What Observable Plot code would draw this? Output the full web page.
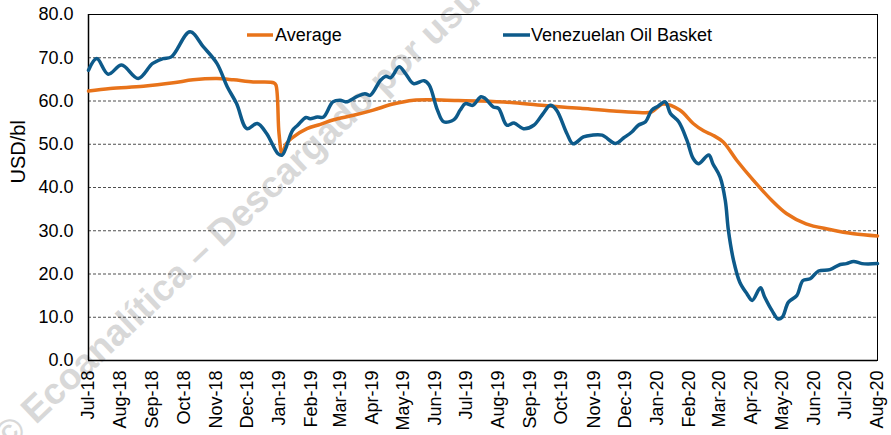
<!DOCTYPE html>
<html><head><meta charset="utf-8">
<script src="https://cdn.jsdelivr.net/npm/d3@7"></script>
<script src="https://cdn.jsdelivr.net/npm/@observablehq/plot@0.6"></script>
<style>
body{margin:0;background:#fff;font-family:"Liberation Sans",Arial,sans-serif;}
#wrap{position:relative;width:891px;height:435px;overflow:hidden;background:#fff;}
#wm,#lg,#chart{position:absolute;left:0;top:0;}
#chart svg{background:transparent !important;}
</style></head><body>
<div id="wrap">
<svg id="wm" width="891" height="435"><text x="0" y="442" transform="rotate(-43.5 0 442)" font-family="Liberation Sans, Arial, sans-serif" font-weight="bold" font-size="37" fill="#d8d8d8" dominant-baseline="central">© Ecoanalítica – Descargado por usuario</text></svg>
<div id="chart"></div>
<svg id="lg" width="891" height="435"></svg>
</div>
<script>
const seriesNames = ["Average", "Venezuelan Oil Basket"];
const seriesColors = ["#e8731a", "#0d5a8a"];

const basketDates = ["2018-07-01","2018-07-09","2018-07-20","2018-08-02","2018-08-18","2018-09-01","2018-09-11","2018-09-19","2018-10-07","2018-10-20","2018-11-02","2018-11-12","2018-11-21","2018-12-01","2018-12-11","2018-12-20","2018-12-31","2019-01-04","2019-01-14","2019-01-19","2019-01-27","2019-01-31","2019-02-07","2019-02-13","2019-02-22","2019-03-01","2019-03-07","2019-03-17","2019-03-25","2019-03-30","2019-04-09","2019-04-14","2019-04-19","2019-04-27","2019-05-03","2019-05-11","2019-05-21","2019-05-26","2019-06-03","2019-06-09","2019-06-19","2019-06-25","2019-06-30","2019-07-07","2019-07-15","2019-07-19","2019-07-27","2019-08-01","2019-08-09","2019-08-16","2019-08-25","2019-09-04","2019-09-13","2019-09-20","2019-09-26","2019-10-06","2019-10-12","2019-10-22","2019-10-30","2019-11-09","2019-11-22","2019-11-30","2019-12-08","2019-12-14","2019-12-21","2019-12-27","2020-01-02","2020-01-09","2020-01-14","2020-01-22","2020-01-30","2020-02-05","2020-02-10","2020-02-20","2020-02-24","2020-03-02","2020-03-07","2020-03-10","2020-03-15","2020-03-21","2020-03-28","2020-04-02","2020-04-10","2020-04-14","2020-04-21","2020-04-27","2020-05-01","2020-05-07","2020-05-15","2020-05-21","2020-05-28","2020-06-05","2020-06-16","2020-06-26","2020-07-02","2020-07-09","2020-07-17","2020-08-01"];
const basketValues = [67.1,69.8,66.2,68.3,65.2,68.7,69.8,70.2,76.0,72.5,68.7,63.3,59.4,53.6,54.8,52.5,47.8,47.5,53.2,54.4,56.2,55.9,56.3,56.3,59.8,60.2,59.8,61.0,61.7,61.3,64.8,65.7,65.4,67.9,66.4,64.0,64.7,63.7,57.9,55.2,55.7,57.9,59.4,59.0,61.0,60.6,58.6,58.3,54.4,54.9,53.6,54.4,57.1,59.0,57.9,52.5,50.1,51.7,52.1,52.1,50.2,51.5,52.9,54.4,55.2,57.9,58.8,59.8,57.1,55.2,50.9,46.7,45.5,47.5,45.5,42.4,37.0,30.1,23.1,18.1,15.4,13.9,16.8,14.7,11.6,9.6,10.0,13.5,15.0,18.5,18.9,20.7,21.0,22.2,22.4,22.9,22.4,22.4];

const averageDates = ["2018-07-01","2018-07-22","2018-08-23","2018-09-21","2018-10-10","2018-11-02","2018-11-18","2018-12-07","2018-12-27","2018-12-29","2019-01-01","2019-01-04","2019-01-08","2019-01-15","2019-01-28","2019-02-10","2019-02-22","2019-03-14","2019-04-02","2019-04-21","2019-05-11","2019-05-30","2019-06-12","2019-07-15","2019-08-16","2019-09-17","2019-10-19","2019-11-20","2019-12-19","2019-12-27","2020-01-07","2020-01-23","2020-02-05","2020-02-15","2020-02-24","2020-03-05","2020-03-18","2020-04-03","2020-04-21","2020-05-05","2020-05-24","2020-06-16","2020-07-09","2020-08-01"];
const averageValues = [62.3,62.9,63.4,64.2,64.9,65.2,64.9,64.4,64.2,63.7,52.5,47.8,50.1,51.7,53.6,54.6,55.6,56.7,57.9,59.3,60.2,60.3,60.2,60.0,59.6,58.9,58.3,57.7,57.3,57.5,59.3,57.9,54.8,53.1,52.1,50.5,46.3,41.7,37.0,34.0,31.6,30.3,29.3,28.8];

const monthTicks = ["2018-07-01","2018-08-01","2018-09-01","2018-10-01","2018-11-01","2018-12-01","2019-01-01","2019-02-01","2019-03-01","2019-04-01","2019-05-01","2019-06-01","2019-07-01","2019-08-01","2019-09-01","2019-10-01","2019-11-01","2019-12-01","2020-01-01","2020-02-01","2020-03-01","2020-04-01","2020-05-01","2020-06-01","2020-07-01","2020-08-01"];
const yTicks = [0,10,20,30,40,50,60,70,80];
const yGrid = [10,20,30,40,50,60,70];
const yTitle = "USD/bl";

const basket = basketDates.map((d,i)=>({date:new Date(d), value:basketValues[i]}));
const average = averageDates.map((d,i)=>({date:new Date(d), value:averageValues[i]}));
const tickDates = monthTicks.map(d=>new Date(d));

const chart = Plot.plot({
  width: 891, height: 435,
  marginLeft: 88, marginRight: 14, marginTop: 14, marginBottom: 75,
  style: {fontFamily: "Liberation Sans, Arial, sans-serif", fontSize: "18px", color: "#000", background: "transparent"},
  x: {type: "utc", domain: [tickDates[0], tickDates[tickDates.length-1]]},
  y: {domain: [0, 80]},
  marks: [
    Plot.ruleY(yGrid, {stroke: "#222", strokeWidth: 0.8, strokeDasharray: "3,2"}),
    Plot.frame({stroke: "#000", strokeWidth: 1}),
    Plot.ruleY([0], {stroke: "#000", strokeWidth: 1.5}),
    Plot.ruleX([tickDates[0]], {stroke: "#000", strokeWidth: 1.5}),
    Plot.line(average, {x: "date", y: "value", stroke: seriesColors[0], strokeWidth: 3.5, curve: "catmull-rom"}),
    Plot.line(basket, {x: "date", y: "value", stroke: seriesColors[1], strokeWidth: 3.5, curve: "catmull-rom"}),
    Plot.axisX({ticks: tickDates, tickFormat: d3.utcFormat("%b-%y"), tickRotate: -90, tickSize: 0, tickPadding: 10, label: null, fill: "#000"}),
    Plot.axisY({ticks: yTicks, tickFormat: d=>d.toFixed(1), tickSize: 0, tickPadding: 15, label: null, fill: "#000"}),
    Plot.text([yTitle], {frameAnchor: "left", dx: -70, dy: -4, rotate: -90, fontSize: 20, fill: "#000"})
  ]
});
document.getElementById("chart").appendChild(chart);

// legend
const lg = d3.select("#lg");
const legendItems = [{x1: 247, x2: 273, tx: 275}, {x1: 503, x2: 530, tx: 531}];
seriesNames.forEach((name, i) => {
  const it = legendItems[i];
  lg.append("line").attr("x1", it.x1).attr("x2", it.x2).attr("y1", 35).attr("y2", 35)
    .attr("stroke", seriesColors[i]).attr("stroke-width", 3.5);
  lg.append("text").attr("x", it.tx).attr("y", 41).text(name)
    .attr("font-family", "Liberation Sans, Arial, sans-serif").attr("font-size", 18).attr("fill", "#000");
});
</script>
</body></html>
